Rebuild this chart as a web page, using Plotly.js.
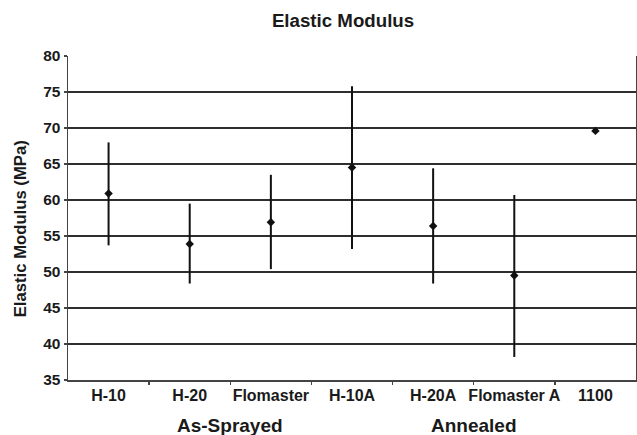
<!DOCTYPE html>
<html>
<head>
<meta charset="utf-8">
<script src="https://cdn.plot.ly/plotly-3.0.1.min.js"></script>
<style>html,body{margin:0;padding:0;background:#fff;}#chart{width:637px;height:435px;}</style>
</head>
<body>
<div id="chart"></div>
<script>
const categories = ["H-10", "H-20", "Flomaster", "H-10A", "H-20A", "Flomaster A", "1100"];
const meanValues = [60.9, 53.9, 56.9, 64.5, 56.4, 49.5, 69.6];
const upperValues = [68.0, 59.5, 63.5, 75.8, 64.4, 60.7, 69.6];
const lowerValues = [53.7, 48.4, 50.4, 53.2, 48.4, 38.2, 69.6];
const groupLabels = ["As-Sprayed", "Annealed"];
const groupCenters = [1.5, 4.5];
const yTicks = [35, 40, 45, 50, 55, 60, 65, 70, 75, 80];

const plus = upperValues.map((u, i) => u - meanValues[i]);
const minus = lowerValues.map((l, i) => meanValues[i] - l);
const idx = categories.map((c, i) => i);

const FONT = "Liberation Sans, Arial, Helvetica, sans-serif";
const INK = "#1a1a1a";

const trace = {
  type: "scatter",
  mode: "markers",
  x: idx,
  y: meanValues,
  marker: {symbol: "diamond", size: 6.5, color: "#111"},
  error_y: {
    type: "data", symmetric: false,
    array: plus, arrayminus: minus,
    thickness: 2, width: 0, color: "#111"
  },
  hoverinfo: "skip",
  showlegend: false
};

const annotations = groupLabels.map((g, i) => ({
  text: "<b>" + g + "</b>",
  x: groupCenters[i], xref: "x",
  y: -0.14, yref: "paper",
  xanchor: "center", yanchor: "middle",
  showarrow: false,
  font: {family: FONT, size: 19, color: INK}
}));
annotations.push({
  text: "<b>Elastic Modulus (MPa)</b>",
  x: -0.084, xref: "paper",
  y: 0.466, yref: "paper",
  xanchor: "center", yanchor: "middle",
  textangle: -90,
  showarrow: false,
  font: {family: FONT, size: 16.7, color: INK}
});

const layout = {
  width: 637, height: 435,
  margin: {l: 68, r: 1, t: 56, b: 55, pad: 0},
  paper_bgcolor: "#fff", plot_bgcolor: "#fff",
  title: {
    text: "<b>Elastic Modulus</b>",
    x: 0.5385, xanchor: "center", xref: "container",
    y: 0.952, yanchor: "middle", yref: "container",
    font: {family: FONT, size: 18.7, color: INK}
  },
  xaxis: {
    range: [-0.5, 6.5],
    tickmode: "array",
    tickvals: idx,
    ticktext: categories.map(c => "<b>" + c + "</b>"),
    showgrid: false,
    zeroline: false,
    showline: true, linecolor: "#444", linewidth: 1.5,
    ticks: "",
    tickfont: {family: FONT, size: 16, color: INK},
    fixedrange: true
  },
  xaxis2: {
    overlaying: "x", range: [-0.5, 6.5],
    tickmode: "array", tickvals: [0.5, 1.5, 2.5, 3.5, 4.5, 5.5],
    ticktext: ["", "", "", "", "", ""],
    ticks: "outside", ticklen: 4, tickwidth: 1.5, tickcolor: "#444",
    showgrid: false, zeroline: false, showline: false,
    anchor: "y", side: "bottom"
  },
  yaxis: {
    range: [35, 80],
    tickmode: "array",
    tickvals: yTicks,
    ticktext: yTicks.map(v => "<b>" + v + "</b>"),
    showgrid: true, gridcolor: "#2e2e2e", gridwidth: 1.6,
    zeroline: false,
    showline: true, linecolor: "#444", linewidth: 1.5, mirror: true,
    ticks: "outside", ticklen: 3, tickwidth: 1.5, tickcolor: "#444",
    tickfont: {family: FONT, size: 15.5, color: INK},
    fixedrange: true
  },
  annotations: annotations
};

const dummy = {type: "scatter", x: [0], y: [35], xaxis: "x2", mode: "none", hoverinfo: "skip", showlegend: false};

Plotly.newPlot("chart", [trace, dummy], layout, {displayModeBar: false, staticPlot: true});
</script>
</body>
</html>
